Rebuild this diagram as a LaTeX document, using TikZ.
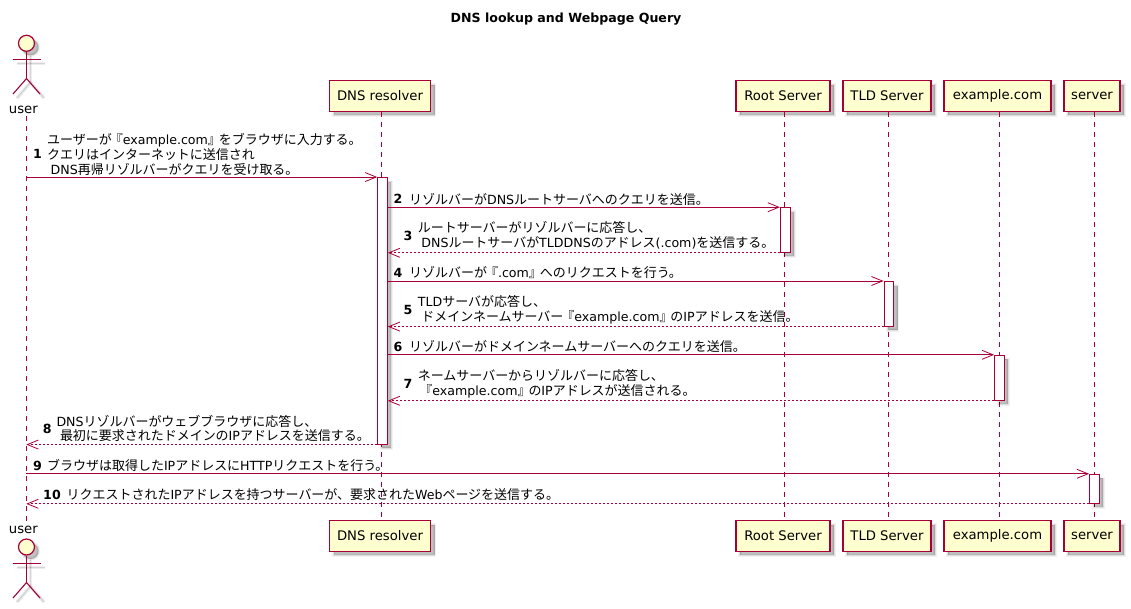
\documentclass[tikz,border=0pt]{standalone}
\usepackage{fontspec}
\setmainfont{DejaVu Sans}
\newfontfamily\jp[Scale=1.03]{Noto Sans CJK JP}
\newcommand\J[1]{{\jp #1}}
\newcommand\Lk{\hspace*{-2pt}\J{『}}
\newcommand\Rk{\J{』}\hspace*{-2pt}}
\newcommand\ind{\hspace*{3.5pt}}
\usetikzlibrary{arrows.meta}
\definecolor{pline}{HTML}{A80036}
\definecolor{pfill}{HTML}{FEFECE}
\tikzset{
  x=1pt,y=-1pt,
  softshadow/.style={
    preaction={draw=black,fill=black,line width=3.5pt,opacity=.05,transform canvas={shift={(4pt,-4pt)}}},
    preaction={draw=black,fill=black,line width=1.5pt,opacity=.08,transform canvas={shift={(4pt,-4pt)}}},
    preaction={fill=black,opacity=.14,transform canvas={shift={(4pt,-4pt)}}}},
  lineshadow/.style={
    preaction={draw=black,line width=3.5pt,opacity=.07,transform canvas={shift={(4pt,-4pt)}}},
    preaction={draw=black,line width=1.5pt,opacity=.1,transform canvas={shift={(4pt,-4pt)}}}},
  participant/.style={draw=pline,fill=pfill,line width=1.2pt,rectangle,inner sep=0pt,minimum height=30.5pt,
    font=\fontsize{13.2}{15}\selectfont,softshadow},
  activation/.style={draw=pline,fill=white,line width=1pt,rectangle,inner sep=0pt,minimum width=9.6pt,softshadow},
  lifeline/.style={draw=pline,line width=.9pt,dash pattern=on 5pt off 5pt},
  actorhead/.style={circle,draw=pline,fill=pfill,line width=1.2pt,inner sep=0pt,minimum size=16pt,softshadow},
  actorline/.style={draw=pline,line width=1.1pt,lineshadow},
  actorname/.style={inner sep=0pt,font=\fontsize{13.2}{16}\selectfont},
  syncmsg/.style={draw=pline,line width=.9pt,-{Straight Barb[length=11pt,width=9pt,line width=.8pt]}},
  replymsg/.style={draw=pline,line width=.9pt,dash pattern=on 2pt off 2pt,-{Straight Barb[length=11pt,width=9pt,line width=.8pt,sep=0pt]}},
  msgtext/.style={anchor=west,inner sep=0pt,align=left,font=\fontsize{12.6}{14.7}\selectfont},
  msgnum/.style={anchor=center,inner sep=0pt,font=\fontsize{12.6}{14.7}\selectfont\bfseries},
  titletext/.style={inner sep=0pt,font=\fontsize{12.6}{15}\selectfont\bfseries}
}
\begin{document}
\begin{tikzpicture}
\useasboundingbox (0,0) rectangle (1131,608);
\node[titletext] (title) at (566,19) {DNS lookup and Webpage Query};
% participants, top
\node[actorname] (ut) at (23.3,110) {user};
\node[participant,minimum width=101pt] (dt) at (380,96) {DNS resolver};
\node[participant,minimum width=94pt] (rt) at (783,96) {Root Server};
\node[participant,minimum width=88pt] (tt) at (887,96) {TLD Server};
\node[participant,minimum width=107pt] (et) at (997.5,96) {example.com};
\node[participant,minimum width=56pt] (st) at (1092,96) {server};
% participants, bottom
\node[actorname] (ub) at (23.3,530) {user};
\node[participant,minimum width=101pt] (db) at (380,536) {DNS resolver};
\node[participant,minimum width=94pt] (rb) at (783,536) {Root Server};
\node[participant,minimum width=88pt] (tb) at (887,536) {TLD Server};
\node[participant,minimum width=107pt] (eb) at (997.5,536) {example.com};
\node[participant,minimum width=56pt] (sb) at (1092,536) {server};
% lifelines
\coordinate (ul1) at (26.3,116);
\coordinate (ul2) at (26.3,521);
\coordinate (dl1) at (381.5,111.5);
\coordinate (dl2) at (381.5,520.5);
\coordinate (rl1) at (784.3,111.5);
\coordinate (rl2) at (784.3,520.5);
\coordinate (tl1) at (888.5,111.5);
\coordinate (tl2) at (888.5,520.5);
\coordinate (el1) at (999.3,111.5);
\coordinate (el2) at (999.3,520.5);
\coordinate (sl1) at (1094.3,111.5);
\coordinate (sl2) at (1094.3,520.5);
\draw[lifeline] (ul1) -- (ul2);
\draw[lifeline] (dl1) -- (dl2);
\draw[lifeline] (rl1) -- (rl2);
\draw[lifeline] (tl1) -- (tl2);
\draw[lifeline] (el1) -- (el2);
\draw[lifeline] (sl1) -- (sl2);
% actors
\node[actorhead] (uh1) at (26.5,43.3) {};
\coordinate (ua1) at (12.5,59.3); \coordinate (ua2) at (40.5,59.3);
\coordinate (uf1) at (26.5,78.5); \coordinate (ul) at (13,94); \coordinate (ur) at (40,94);
\draw[actorline] (uh1.south) -- (uf1);
\draw[actorline] (ua1) -- (ua2);
\draw[actorline] (ul) -- (uf1) -- (ur);
\node[actorhead] (uh2) at (26.5,547) {};
\coordinate (ub1) at (12.5,563.3); \coordinate (ub2) at (40.5,563.3);
\coordinate (ug1) at (26.5,582.5); \coordinate (ugl) at (13,598); \coordinate (ugr) at (40,598);
\draw[actorline] (uh2.south) -- (ug1);
\draw[actorline] (ub1) -- (ub2);
\draw[actorline] (ugl) -- (ug1) -- (ugr);
% activations
\node[activation,minimum height=266.5pt] (ad) at (382.5,310.8) {};
\node[activation,minimum height=44.6pt] (ar) at (785.2,230) {};
\node[activation,minimum height=44.6pt] (at) at (888.8,303.8) {};
\node[activation,minimum height=45pt] (ae) at (999.4,377.8) {};
\node[activation,minimum height=29pt] (as) at (1094.3,488.8) {};
% message 1
\draw[syncmsg] (ul1 |- ad.north) -- (ad.north west);
\node[msgnum] (n1) at (37.5,154.3) {1};
\node[msgtext] (t1) at (47,154.3) {\J{ユーザーが}\Lk{}example.com\Rk\J{をブラウザに入力する。}\\\J{クエリはインターネットに送信され}\\\ind DNS\J{再帰リゾルバーがクエリを受け取る。}};
% message 2
\draw[syncmsg] (ad.east |- ar.north) -- (ar.north west);
\node[msgnum] (n2) at (398,199) {2};
\node[msgtext] (t2) at (409,199) {\J{リゾルバーが}DNS\J{ルートサーバへのクエリを送信。}};
% message 3
\draw[replymsg] (ar.south west) -- (ad.east |- ar.south);
\node[msgnum] (n3) at (408,235.6) {3};
\node[msgtext] (t3) at (417.7,235.6) {\J{ルートサーバーがリゾルバーに応答し、}\\\ind DNS\J{ルートサーバが}TLDDNS\J{のアドレス}(.com)\J{を送信する。}};
% message 4
\draw[syncmsg] (ad.east |- at.north) -- (at.north west);
\node[msgnum] (n4) at (398,272.7) {4};
\node[msgtext] (t4) at (409,272.7) {\J{リゾルバーが}\Lk{}.com\Rk\J{へのリクエストを行う。}};
% message 5
\draw[replymsg] (at.south west) -- (ad.east |- at.south);
\node[msgnum] (n5) at (408,309.6) {5};
\node[msgtext] (t5) at (417.7,309.6) {TLD\J{サーバが応答し、}\\\ind\J{ドメインネームサーバー}\Lk{}example.com\Rk\J{の}IP\J{アドレスを送信。}};
% message 6
\draw[syncmsg] (ad.east |- ae.north) -- (ae.north west);
\node[msgnum] (n6) at (398,346.7) {6};
\node[msgtext] (t6) at (409,346.7) {\J{リゾルバーがドメインネームサーバーへのクエリを送信。}};
% message 7
\draw[replymsg] (ae.south west) -- (ad.east |- ae.south);
\node[msgnum] (n7) at (408,383.6) {7};
\node[msgtext] (t7) at (417.7,383.6) {\J{ネームサーバーからリゾルバーに応答し、}\\\ind\Lk{}example.com\Rk\J{の}IP\J{アドレスが送信される。}};
% message 8
\draw[replymsg] (ad.south west) -- (ul1 |- ad.south);
\node[msgnum] (n8) at (47.3,428.5) {8};
\node[msgtext] (t8) at (56.3,428.5) {DNS\J{リゾルバーがウェブブラウザに応答し、}\\\ind\J{最初に要求されたドメインの}IP\J{アドレスを送信する。}};
% message 9
\draw[syncmsg] (ul1 |- as.north) -- (as.north west);
\node[msgnum] (n9) at (37.5,465.7) {9};
\node[msgtext] (t9) at (47,465.7) {\J{ブラウザは取得した}IP\J{アドレスに}HTTP\J{リクエストを行う。}};
% message 10
\draw[replymsg] (as.south west) -- (ul1 |- as.south);
\node[msgnum] (n10) at (52,495) {10};
\node[msgtext] (t10) at (66.5,495) {\J{リクエストされた}IP\J{アドレスを持つサーバーが、要求された}Web\J{ページを送信する。}};
\end{tikzpicture}
\end{document}
